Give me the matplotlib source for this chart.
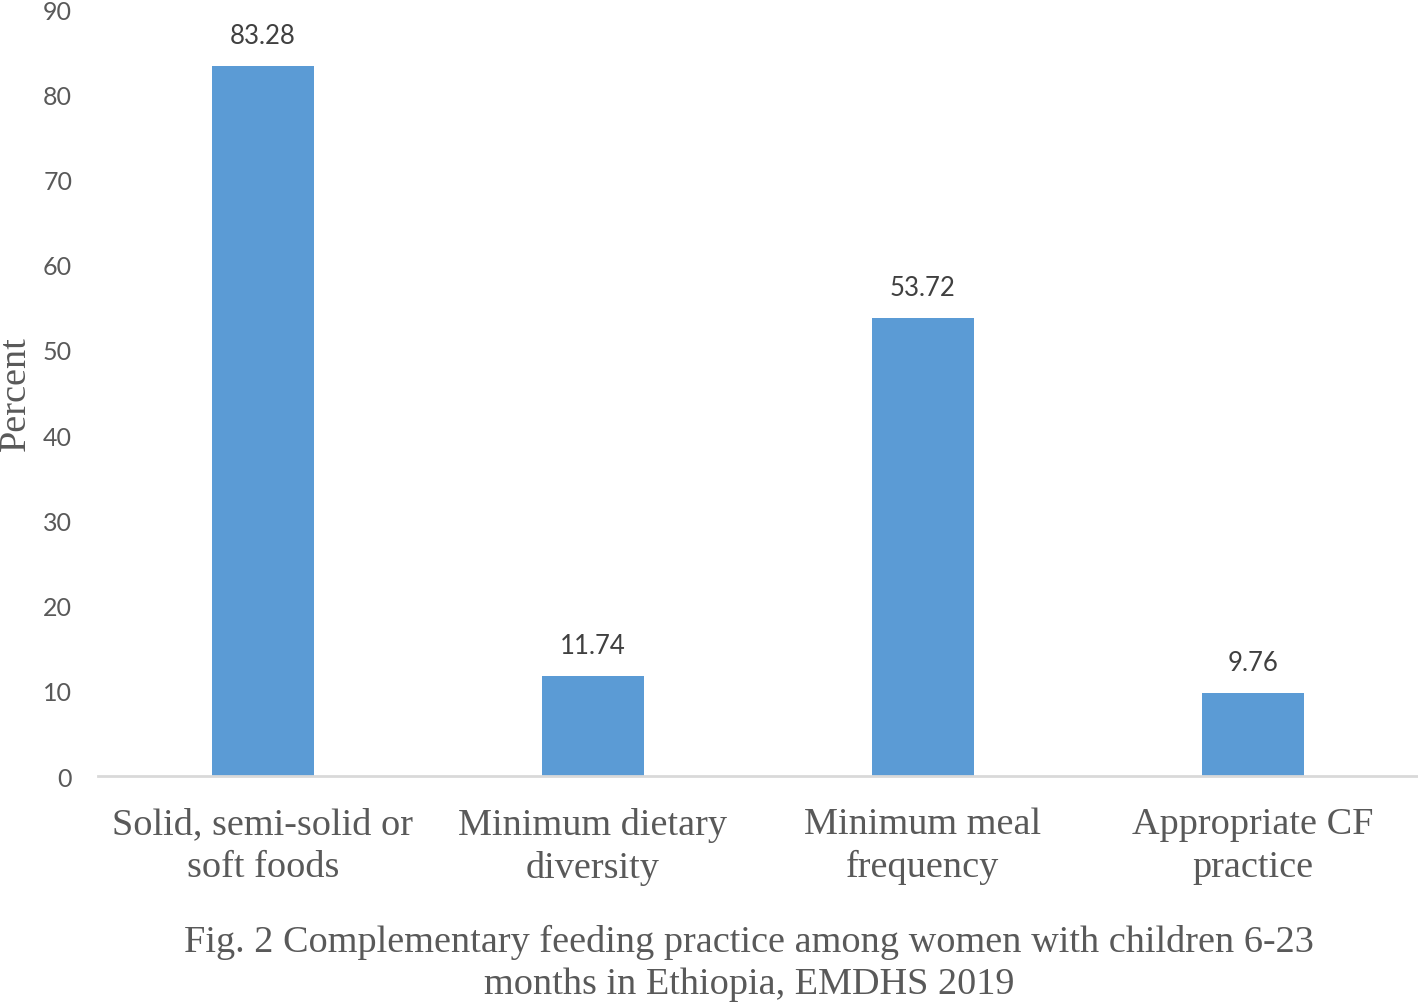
import matplotlib
matplotlib.use("Agg")
import matplotlib.pyplot as plt

categories = [
    "Solid, semi-solid or\nsoft foods",
    "Minimum dietary\ndiversity",
    "Minimum meal\nfrequency",
    "Appropriate CF\npractice",
]
percent = [83.28, 11.74, 53.72, 9.76]
yticks = [0, 10, 20, 30, 40, 50, 60, 70, 80, 90]
caption = ("Fig. 2 Complementary feeding practice among women with children 6-23\n"
           "months in Ethiopia, EMDHS 2019")

BAR = "#5B9BD5"
GREY = "#595959"
SERIF = "Liberation Serif"
SANS = "Lato"

fig = plt.figure(figsize=(14.18, 10.03), dpi=100)
ax = fig.add_axes([0.069, 0.2253, 0.931, 0.7647])

x = list(range(len(categories)))
bars = ax.bar(x, percent, width=0.31, color=BAR, zorder=2)
for b, v in zip(bars, percent):
    ax.annotate(f"{v:.2f}", (b.get_x() + b.get_width() / 2, v),
                xytext=(0, 13), textcoords="offset points",
                ha="center", va="bottom", fontsize=18.5,
                family=SANS, color="#404040")

ax.set_xlim(-0.5, 3.5)
ax.set_ylim(0, 90)
ax.set_yticks(yticks)
ax.set_yticklabels([str(t) for t in yticks], family=SANS, fontsize=18, color=GREY)
ax.set_xticks(x)
ax.set_xticklabels(categories, family=SERIF, fontsize=27.5, color=GREY, linespacing=1.3)
ax.tick_params(axis="both", length=0)
ax.tick_params(axis="y", pad=18.5)
ax.tick_params(axis="x", pad=22)

for s in ["top", "right", "left"]:
    ax.spines[s].set_visible(False)
ax.spines["bottom"].set_color("#D9D9D9")
ax.spines["bottom"].set_linewidth(2)

ax.set_ylabel("Percent", family=SERIF, fontsize=27.5, color=GREY)
ax.yaxis.set_label_coords(-0.0495, 0.5)

fig.text(0.528, 0.0395, caption, ha="center", va="center",
         family=SERIF, fontsize=27.5, color=GREY, linespacing=1.3)

fig.savefig("out.png", dpi=100)
